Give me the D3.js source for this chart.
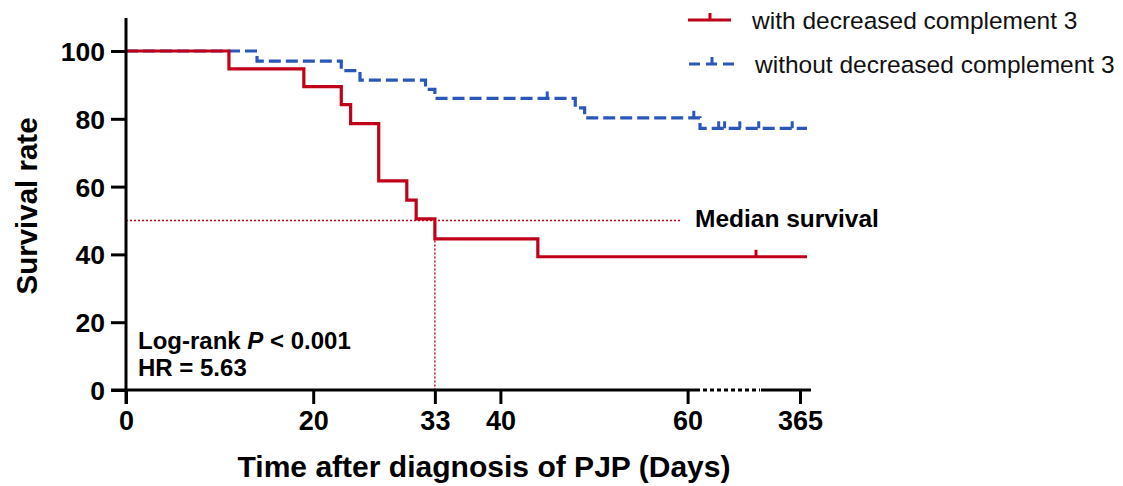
<!DOCTYPE html>
<html>
<head>
<meta charset="utf-8">
<script src="https://cdn.jsdelivr.net/npm/d3@7"></script>
<style>
  body { margin: 0; background: #ffffff; }
  text { font-family: "Liberation Sans", Arial, Helvetica, sans-serif; }
</style>
</head>
<body>
<script>
// 数据：生存曲线（天数, 生存率）
const withC3 = [[0, 100], [11, 94.7], [19, 89.5], [23, 84.2], [24, 78.6], [27, 61.7],
    [30, 56.0], [31, 50.5], [33, 44.6], [44, 39.3], [371, 39.3]];
const withC3Censor = [308];
const withoutC3 = [[0, 100], [14, 97.0], [23, 94.2], [25, 91.4], [32, 88.7], [33, 86.0],
    [48, 83.2], [49, 80.3], [62, 77.2], [371, 77.2]];
const withoutC3Censor = [45, 61, 144, 170, 237, 320, 358];
const xTicks = [0, 20, 33, 40, 60, 365];
const yTicks = [0, 20, 40, 60, 80, 100];
const medianDay = 33;
const legendLabels = ['with decreased complement 3', 'without decreased complement 3'];

const red = '#c00018';
const blue = '#2a57b8';

const svg = d3.select('body').append('svg')
    .attr('width', 1123)
    .attr('height', 486);

// 断轴比例尺：0-60 天线性，之后压缩到 365
const x = d3.scaleLinear()
    .domain([0, 60, 62, 330, 365, 371])
    .range([126, 687.6, 700, 761, 800, 807]);
const y = d3.scaleLinear().domain([0, 100]).range([390, 51]);

// 中位生存参考线
svg.append('line')
    .attr('x1', x(0)).attr('x2', 682)
    .attr('y1', y(50)).attr('y2', y(50))
    .attr('stroke', red).attr('stroke-width', 1.4)
    .attr('stroke-dasharray', '2,2');
svg.append('line')
    .attr('x1', x(medianDay)).attr('x2', x(medianDay))
    .attr('y1', y(50)).attr('y2', y(0))
    .attr('stroke', red).attr('stroke-width', 1.4)
    .attr('stroke-dasharray', '2,2');

const line = d3.line()
    .x(d => x(d[0]))
    .y(d => y(d[1]))
    .curve(d3.curveStepAfter);

// 无补体下降组（虚线）
svg.append('path')
    .datum(withoutC3)
    .attr('d', line)
    .attr('fill', 'none')
    .attr('stroke', blue)
    .attr('stroke-width', 3.2)
    .attr('stroke-dasharray', '12,5');

// 有补体下降组（实线）
svg.append('path')
    .datum(withC3)
    .attr('d', line)
    .attr('fill', 'none')
    .attr('stroke', red)
    .attr('stroke-width', 3.2);

// 删失标记
const survAt = (data, t) => {
    let v = data[0][1];
    data.forEach(d => { if (d[0] <= t) v = d[1]; });
    return v;
};
const censor = (data, days, color) => {
    svg.append('g')
        .selectAll('line')
        .data(days)
        .enter()
        .append('line')
        .attr('x1', d => x(d)).attr('x2', d => x(d))
        .attr('y1', d => y(survAt(data, d)) - 7)
        .attr('y2', d => y(survAt(data, d)))
        .attr('stroke', color)
        .attr('stroke-width', 3);
};
censor(withoutC3, withoutC3Censor, blue);
censor(withC3, withC3Censor, red);

// Y 轴
const yAxis = svg.append('g')
    .attr('transform', `translate(${x(0)},0)`)
    .call(d3.axisLeft(y).tickValues(yTicks).tickSize(15).tickPadding(6));
yAxis.select('.domain').remove();
yAxis.append('line')
    .attr('x1', 0).attr('x2', 0)
    .attr('y1', 18).attr('y2', 404)
    .attr('stroke', '#000').attr('stroke-width', 3);
yAxis.selectAll('.tick line').attr('stroke', '#000').attr('stroke-width', 3);
yAxis.selectAll('.tick text')
    .attr('fill', '#000')
    .attr('dy', '0.36em')
    .style('font-size', '26.5px')
    .style('font-weight', 'bold');

// X 轴（断轴）
const xAxis = svg.append('g')
    .attr('transform', `translate(0,${y(0)})`)
    .call(d3.axisBottom(x).tickValues(xTicks).tickSize(14).tickPadding(7));
xAxis.select('.domain').remove();
xAxis.append('line')
    .attr('x1', x(0) - 15).attr('x2', 700)
    .attr('stroke', '#000').attr('stroke-width', 3);
xAxis.append('line')
    .attr('x1', 703).attr('x2', 760)
    .attr('stroke', '#000').attr('stroke-width', 3)
    .attr('stroke-dasharray', '4,3');
xAxis.append('line')
    .attr('x1', 761).attr('x2', 811)
    .attr('stroke', '#000').attr('stroke-width', 3);
xAxis.selectAll('.tick line').attr('stroke', '#000').attr('stroke-width', 3);
xAxis.selectAll('.tick text')
    .attr('fill', '#000')
    .style('font-size', '27px')
    .style('font-weight', 'bold');

// 轴标题
svg.append('text')
    .attr('transform', 'translate(37,206) rotate(-90)')
    .attr('text-anchor', 'middle')
    .style('font-size', '29.5px')
    .style('font-weight', 'bold')
    .text('Survival rate');
svg.append('text')
    .attr('x', 484).attr('y', 477)
    .attr('text-anchor', 'middle')
    .attr('textLength', 493)
    .attr('lengthAdjust', 'spacingAndGlyphs')
    .style('font-size', '29px')
    .style('font-weight', 'bold')
    .text('Time after diagnosis of PJP (Days)');

// 注释
svg.append('text')
    .attr('x', 695).attr('y', 227)
    .style('font-size', '24.5px')
    .style('font-weight', 'bold')
    .text('Median survival');
const lr = svg.append('text')
    .attr('x', 138).attr('y', 349)
    .style('font-size', '24px')
    .style('font-weight', 'bold');
lr.append('tspan').text('Log-rank ');
lr.append('tspan').style('font-style', 'italic').text('P');
lr.append('tspan').text(' < 0.001');
svg.append('text')
    .attr('x', 138).attr('y', 376)
    .style('font-size', '24px')
    .style('font-weight', 'bold')
    .text('HR = 5.63');

// 图例
const legend = svg.append('g');
legend.append('line')
    .attr('x1', 688).attr('x2', 731).attr('y1', 20).attr('y2', 20)
    .attr('stroke', red).attr('stroke-width', 3);
legend.append('line')
    .attr('x1', 710).attr('x2', 710).attr('y1', 13).attr('y2', 20)
    .attr('stroke', red).attr('stroke-width', 3);
legend.append('line')
    .attr('x1', 689).attr('x2', 735).attr('y1', 64).attr('y2', 64)
    .attr('stroke', blue).attr('stroke-width', 3)
    .attr('stroke-dasharray', '11,6');
legend.append('line')
    .attr('x1', 712).attr('x2', 712).attr('y1', 57).attr('y2', 64)
    .attr('stroke', blue).attr('stroke-width', 3);
legend.selectAll('text')
    .data(legendLabels)
    .enter()
    .append('text')
    .attr('x', (d, i) => i === 0 ? 752 : 755)
    .attr('y', (d, i) => i === 0 ? 29 : 73)
    .style('font-size', '24.5px')
    .attr('fill', '#111')
    .text(d => d);
</script>
</body>
</html>
